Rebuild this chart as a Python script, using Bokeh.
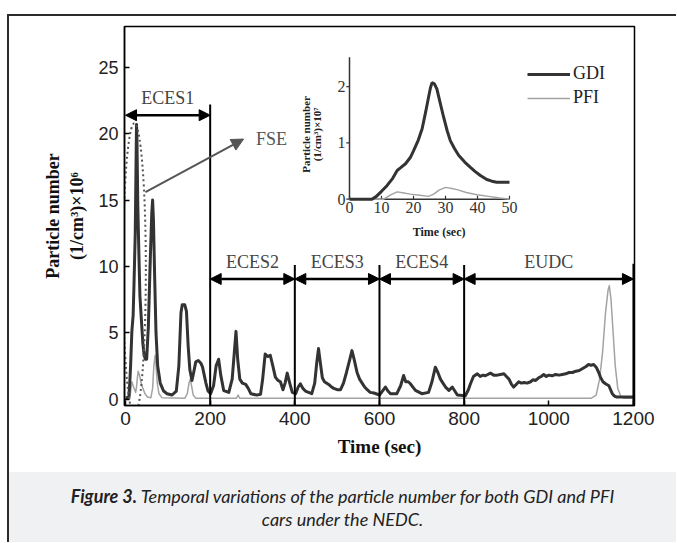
import math
from bokeh.plotting import figure
from bokeh.models import (Range1d, FixedTicker, Arrow, NormalHead, ColumnDataSource,
                          Legend, LegendItem, Div)
from bokeh.layouts import column, row
from bokeh.core.properties import value
from bokeh.embed import file_html
from bokeh.resources import INLINE

# ---------------- data ----------------
gdi_t = [0, 5, 8, 10, 12, 15, 18, 20, 23, 25, 26, 27, 29, 32, 34, 38, 41, 44, 47, 50,
         54, 58, 62, 64, 66, 69, 72, 76, 82, 90, 98, 110, 120, 126, 131, 134, 140, 144, 148,
         152, 157, 161, 166, 172, 178, 182, 186, 190, 195, 201, 208, 214, 220, 225, 232, 244,
         252, 257, 261, 265, 270, 276, 284, 290, 296, 310, 319, 324, 330, 336, 342, 348, 354,
         360, 366, 372, 377, 382, 388, 394, 402, 408, 413, 419, 425, 440, 447, 452, 456, 460,
         465, 470, 480, 487, 492, 500, 508, 515, 522, 530, 535, 540, 547, 553, 559, 565, 571,
         578, 587, 600, 607, 614, 620, 626, 641, 650, 657, 662, 668, 673, 679, 685, 700, 716,
         724, 732, 738, 744, 750, 756, 764, 772, 778, 784, 803, 810, 815, 822, 831, 838, 845,
         850, 856, 862, 870, 878, 886, 894, 900, 906, 912, 917, 923, 929, 935, 942, 949, 957,
         963, 969, 976, 982, 988, 994, 1000, 1008, 1016, 1024, 1032, 1040, 1048, 1056, 1064,
         1072, 1080, 1088, 1094, 1100, 1106, 1112, 1118, 1122, 1128, 1134, 1142, 1146, 1150,
         1156, 1161, 1185, 1200]
gdi_n = [0.1, 0.1, 0.2, 1.2, 2.5, 5.1, 6.3, 8.6, 12.5, 18.1, 20.7, 19.6, 14.6, 10.4, 7.8, 5.7,
         4.2, 3.3, 3.0, 3.0,
         5.5, 10.0, 14.0, 15.0, 13.5, 9.0, 5.0, 2.5, 1.2, 0.6, 0.4, 0.3, 0.6, 2.5, 6.5, 7.1, 7.1,
         6.6, 4.0,
         2.2, 1.4, 2.0, 2.8, 2.9, 2.7, 2.4, 1.8, 1.2, 0.6, 0.4, 1.0, 2.5, 3.0, 1.8, 0.64, 0.5,
         1.5, 3.5, 5.1, 3.0, 1.5, 1.2, 1.1, 0.8, 0.4, 0.3, 0.35, 1.5, 3.4, 3.2, 3.3, 2.5, 1.65,
         1.4, 1.3, 0.7, 1.2, 1.95, 1.2, 0.5, 0.4, 0.9, 1.15, 0.8, 0.6, 0.4, 1.2, 2.8, 3.8, 2.8,
         1.6, 1.3, 1.1, 0.9, 0.8, 0.7, 0.7, 1.2, 2.0, 3.0, 3.65, 3.0, 2.0, 1.5, 1.2, 0.9, 0.7,
         0.5, 0.45, 0.3, 0.6, 0.9, 0.6, 0.4, 0.4, 1.0, 1.77, 1.3, 1.3, 1.15, 0.9, 0.65, 0.4, 0.5,
         1.3, 2.4, 2.0, 1.5, 1.2, 0.9, 0.65, 0.9, 0.6, 0.3, 0.25, 0.7, 1.15, 1.7, 1.9, 1.7, 1.8,
         1.75, 1.85, 1.95, 1.8, 1.8, 1.85, 1.9, 1.7, 1.5, 1.1, 0.9, 1.1, 1.3, 1.2, 1.25, 1.2, 1.3,
         1.45, 1.4, 1.6, 1.7, 1.85, 1.7, 1.8, 1.75, 1.85, 1.8, 1.85, 1.9, 2.0, 2.0, 2.1,
         2.15, 2.3, 2.45, 2.6, 2.55, 2.6, 2.4, 2.0, 1.65, 1.3, 1.15, 1.0, 0.7, 0.4,
         0.2, 0.15, 0.15, 0.15]

pfi_t = [0, 10, 13, 15, 19, 24, 26, 28, 30, 33, 37, 41, 46, 52, 60, 64, 67, 70, 72, 75, 79, 86,
         140, 146, 150, 153, 156, 160, 166, 262, 266, 270, 1100, 1112, 1120, 1127, 1134, 1140,
         1143, 1147, 1152, 1157, 1163, 1170, 1178, 1200]
pfi_n = [0, 0, 0.8, 1.3, 0.9, 0.5, 0.9, 1.6, 2.1, 1.8, 1.2, 0.8, 0.4, 0.15, 0.1, 0.8, 2.5, 3.3,
         2.6, 1.2, 0.4, 0.1, 0.05, 0.4, 1.2, 1.5, 1.0, 0.3, 0.05, 0.05, 0.3, 0.05, 0.05, 0.3,
         1.5, 3.5, 6.5, 8.2, 8.55, 7.5, 5.0, 2.5, 0.8, 0.2, 0.05, 0.05]

inset_gdi_t = [0, 4, 7, 8.4, 10, 11.7, 13.5, 14.9, 16, 17.5, 19, 20, 21.5, 22.7, 23.8, 24.7,
               25.3, 25.8, 26.5, 27.3, 28.3, 29.4, 30.5, 31.5, 32.8, 34.1, 36, 37.7, 39.3,
               40.9, 42.9, 44.5, 46, 48, 50]
inset_gdi_n = [0, 0, 0, 0.05, 0.14, 0.24, 0.37, 0.51, 0.56, 0.63, 0.74, 0.86, 1.05, 1.25, 1.55,
               1.81, 1.98, 2.07, 2.05, 1.96, 1.72, 1.46, 1.22, 1.04, 0.9, 0.78, 0.66, 0.57,
               0.49, 0.42, 0.35, 0.32, 0.30, 0.30, 0.30]
inset_pfi_t = [0, 5, 10.7, 13, 14.9, 17, 19, 22, 24.7, 26.3, 28, 30, 32, 33.6, 36.5, 39.8,
               43.5, 47, 50]
inset_pfi_n = [0, 0, 0, 0.08, 0.13, 0.11, 0.09, 0.07, 0.05, 0.09, 0.16, 0.21, 0.19, 0.17,
               0.12, 0.08, 0.05, 0.02, 0.0]

x_ticks = [0, 200, 400, 600, 800, 1000, 1200]
y_ticks = [0, 5, 10, 15, 20, 25]
inset_x_ticks = [0, 10, 20, 30, 40, 50]
inset_y_ticks = [0, 1, 2]
inset_y_top = 2.52

phase_names = ["ECES1", "ECES2", "ECES3", "ECES4", "EUDC"]
phase_start = [0, 200, 400, 600, 800]
phase_end = [200, 400, 600, 800, 1200]
phase_arrow_y = [21.4, 9.05, 9.05, 9.05, 9.05]
boundary_x = [200, 400, 600, 800, 1200]
boundary_top = [22.2, 10.1, 10.1, 10.1, 10.2]

fse_ellipse = dict(x=[21], y=[9.8], w=[54], h=[22])
fse_arrow = dict(x0=47, y0=15.6, x1=279, y1=19.6)
fse_label = dict(x=[345], y=[19.6], text=["FSE"])

assert len(gdi_t) == len(gdi_n) and len(pfi_t) == len(pfi_n)
assert len(inset_gdi_t) == len(inset_gdi_n) and len(inset_pfi_t) == len(inset_pfi_n)

SERIF = value("Liberation Serif")
SANS = "Liberation Sans"
GDI_C = "#333333"
PFI_C = "#a3a3a3"

# ---------------- figure ----------------
p = figure(width=667, height=456,
           x_range=Range1d(-2.4, 1202.5), y_range=Range1d(-0.49, 28.09),
           output_backend="svg", toolbar_location=None,
           min_border_left=115, min_border_right=42, min_border_top=10, min_border_bottom=67)
p.xgrid.visible = False
p.ygrid.visible = False
p.background_fill_color = "white"
p.border_fill_color = "white"
p.outline_line_color = "black"
p.outline_line_width = 1.5
p.outline_line_alpha = 1

for ax in (p.xaxis[0], p.yaxis[0]):
    ax.axis_line_color = "black"
    ax.axis_line_width = 1.5
    ax.major_tick_in = 5
    ax.major_tick_out = 0
    ax.major_tick_line_color = "black"
    ax.major_tick_line_width = 1.5
    ax.minor_tick_line_color = None
    ax.major_label_text_font = SANS
    ax.major_label_text_color = "#222222"
    ax.axis_label_text_font = "Liberation Serif"
    ax.axis_label_text_font_style = "bold"
    ax.axis_label_text_color = "#111111"
    ax.major_label_standoff = 6

p.xaxis.ticker = FixedTicker(ticks=x_ticks)
p.yaxis.ticker = FixedTicker(ticks=y_ticks)
p.xaxis.major_label_text_font_size = "19px"
p.yaxis.major_label_text_font_size = "18px"
p.xaxis.axis_label = "Time (sec)"
p.xaxis.axis_label_text_font_size = "19px"
p.xaxis.axis_label_standoff = 8
p.yaxis.axis_label = "Particle number\n(1/cm³)×10⁶"
p.yaxis.axis_label_text_font_size = "18px"
p.yaxis.axis_label_standoff = 8

# main curves
p.line(pfi_t, pfi_n, line_color=PFI_C, line_width=1.5, line_join="round")
p.line(gdi_t, gdi_n, line_color=GDI_C, line_width=3, line_join="round")

# FSE marking
p.ellipse(x=fse_ellipse["x"], y=fse_ellipse["y"], width=fse_ellipse["w"], height=fse_ellipse["h"],
          fill_color=None, line_color="#555555", line_width=2, line_dash="2 3")
p.add_layout(Arrow(x_start=fse_arrow["x0"], y_start=fse_arrow["y0"],
                   x_end=fse_arrow["x1"], y_end=fse_arrow["y1"],
                   line_color="#555555", line_width=2,
                   end=NormalHead(size=12, fill_color="#555555", line_color="#555555")))
p.text(x=fse_label["x"], y=fse_label["y"], text=fse_label["text"], text_font=SERIF,
       text_font_size="18px", text_color="#555555", text_align="center", text_baseline="middle")

# phase boundaries and arrows
p.segment(x0=boundary_x, y0=[p.y_range.start] * len(boundary_x), x1=boundary_x, y1=boundary_top,
          line_color="black", line_width=2)
arrow_src = ColumnDataSource(dict(x0=phase_start, x1=phase_end, y=phase_arrow_y))
p.add_layout(Arrow(source=arrow_src, x_start="x0", y_start="y", x_end="x1", y_end="y",
                   line_color="black", line_width=2.5,
                   start=NormalHead(size=11, fill_color="black", line_color="black"),
                   end=NormalHead(size=11, fill_color="black", line_color="black")))
phase_mid = [(a + b) / 2 for a, b in zip(phase_start, phase_end)]
p.text(x=phase_mid, y=phase_arrow_y, text=phase_names, text_font=SERIF, text_font_size="18px",
       text_color="#444444", text_align="center", text_baseline="middle", y_offset=-17)

# ---------------- inset (own scales inside the same frame) ----------------
p.extra_x_ranges = {"ix": Range1d(-70.31, 89.06)}
p.extra_y_ranges = {"iy": Range1d(-3.664, 3.067)}
IK = dict(x_range_name="ix", y_range_name="iy")

# inset axes
p.segment(x0=[0, 0], y0=[0, 0], x1=[0, max(inset_x_ticks)], y1=[inset_y_top, 0],
          line_color="#333333", line_width=1.5, **IK)
p.segment(x0=inset_x_ticks, y0=[0] * len(inset_x_ticks), x1=inset_x_ticks,
          y1=[0.06] * len(inset_x_ticks), line_color="#333333", line_width=1.2, **IK)
p.segment(x0=[-1.0] * len(inset_y_ticks), y0=inset_y_ticks, x1=[0] * len(inset_y_ticks),
          y1=inset_y_ticks, line_color="#333333", line_width=1.2, **IK)
p.text(x=inset_x_ticks, y=[0] * len(inset_x_ticks), text=[str(v) for v in inset_x_ticks],
       text_font=SERIF, text_font_size="16px", text_color="#333333", text_align="center",
       text_baseline="top", y_offset=3, **IK)
p.text(x=[0] * len(inset_y_ticks), y=inset_y_ticks, text=[str(v) for v in inset_y_ticks],
       text_font=SERIF, text_font_size="16px", text_color="#333333", text_align="right",
       text_baseline="middle", x_offset=-4, **IK)
p.text(x=[28], y=[0], text=["Time (sec)"], text_font=SERIF, text_font_style="bold",
       text_font_size="12px", text_color="#222222", text_align="center", text_baseline="middle",
       y_offset=33, **IK)
p.text(x=[-13.5, -10.3], y=[1.15, 1.15], text=["Particle number", "(1/cm³)×10⁷"],
       text_font=SERIF, text_font_style="bold", text_font_size="11px", text_color="#222222",
       text_align="center", text_baseline="middle", angle=math.pi / 2, **IK)

r_ip = p.line(inset_pfi_t, inset_pfi_n, line_color=PFI_C, line_width=1.5, **IK)
r_ig = p.line(inset_gdi_t, inset_gdi_n, line_color=GDI_C, line_width=3, **IK)

legend = Legend(items=[LegendItem(label="GDI", renderers=[r_ig]),
                       LegendItem(label="PFI", renderers=[r_ip])],
                location=(403, 297), orientation="vertical")
legend.label_text_font = "Liberation Serif"
legend.label_text_font_size = "18px"
legend.label_text_color = "#222222"
legend.glyph_width = 43
legend.glyph_height = 20
legend.label_height = 20
legend.label_standoff = 3
legend.spacing = 3
legend.padding = 0
legend.margin = 0
legend.border_line_color = None
legend.background_fill_alpha = 0
p.add_layout(legend)

# ---------------- caption and frame ----------------
cap_html = ('<div style="width:667px;text-align:center;font-family:Lato,sans-serif;'
            'font-style:italic;font-size:18px;color:#222;line-height:23px;padding-top:13px;">'
            '<b>Figure 3.</b> Temporal variations of the particle number for both GDI and PFI'
            '<br>cars under the NEDC.</div>')
caption = Div(text=cap_html, width=667, height=70, margin=0,
              styles={"background-color": "#f0f1f3"})
top_border = Div(text="", width=667, height=2, margin=0, styles={"background-color": "#2b2b2b"})
left_border = Div(text="", width=2, height=528, margin=0, styles={"background-color": "#2b2b2b"})
left_space = Div(text="", width=7, height=528, margin=0)
spacer = Div(text="", width=676, height=14, margin=0)

inner = column(top_border, p, caption, spacing=0)
layout = column(spacer, row(left_space, left_border, inner, spacing=0), spacing=0)

open("out.html", "w").write(file_html(layout, INLINE))
